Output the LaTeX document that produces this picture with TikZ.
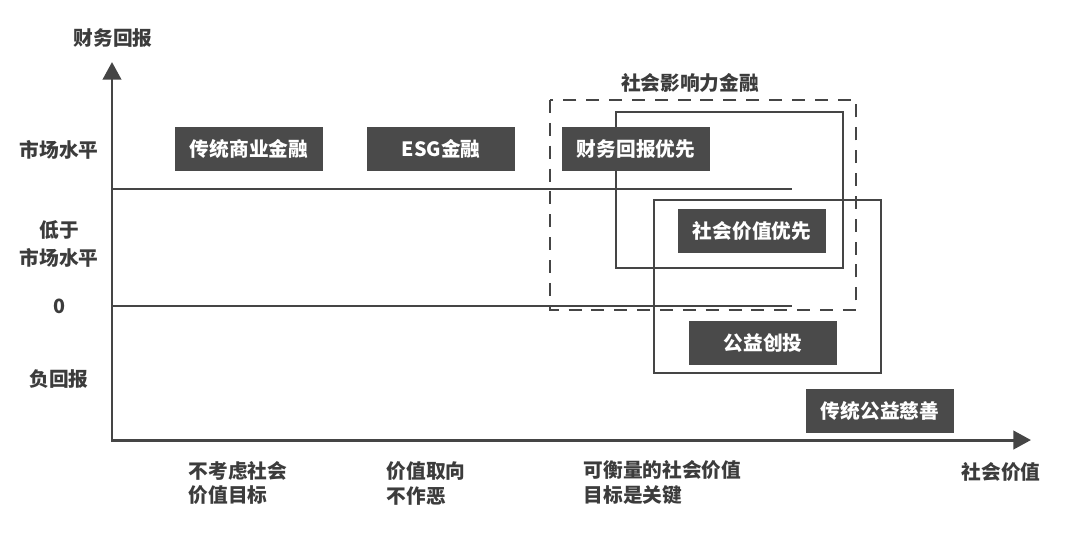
\documentclass[tikz,border=0pt]{standalone}
\usepackage{fontspec}
\setmainfont{Noto Sans CJK SC}
\usetikzlibrary{arrows.meta,positioning}
\definecolor{boxgray}{HTML}{4A4A4A}
\definecolor{linegray}{HTML}{454545}
\definecolor{textgray}{HTML}{3C3C3C}

\begin{document}
\begin{tikzpicture}[
  x=0.01cm, y=-0.01cm,
  cat/.style={rectangle, fill=boxgray, minimum width=1.48cm, minimum height=0.44cm,
              inner sep=0pt, text=white, font=\fontsize{5.6}{7}\selectfont\bfseries},
  lbl/.style={inner sep=0pt, text=textgray, align=center,
              font=\fontsize{5.6}{8}\selectfont\bfseries},
  note/.style={lbl, anchor=west, align=left, font=\fontsize{5.6}{7.1}\selectfont\bfseries},
  axis/.style={line width=0.85pt, draw=linegray,
               {Triangle[length=5pt,width=5.2pt]}-{Triangle[length=5pt,width=5.2pt]}},
  level/.style={line width=0.7pt, draw=linegray},
  zone/.style={line width=0.75pt, draw=linegray},
  impact/.style={zone, dash pattern=on 3.7pt off 2.8pt},
]
  \useasboundingbox (0,0) rectangle (1080,535);

  % Axes
  \coordinate (o) at (112,440);
  \coordinate (ytip) at (112,62);
  \coordinate (xtip) at (1031,440);
  \draw[axis] (ytip) -- (o) -- (xtip);
  \node[lbl] (yname) at (113,38) {财务回报};
  \node[lbl] (xname) at (1001,472) {社会价值};

  % Return levels
  \coordinate (mkt) at (112,189);
  \coordinate (mktend) at (792,189);
  \coordinate (zero) at (112,306);
  \coordinate (zeroend) at (792,306);
  \draw[level] (mkt) -- (mktend);
  \draw[level] (zero) -- (zeroend);
  \node[lbl] (ymkt) at (59,150) {市场水平};
  \node[lbl] (ylow) at (59,244) {低于\\市场水平};
  \node[lbl] (yzero) at (59,306) {0};
  \node[lbl] (yneg) at (59,379) {负回报};

  % Zones
  \draw[impact] (550,100) rectangle (856,310);
  \node[lbl] (impactname) at (690,83) {社会影响力金融};
  \draw[zone] (616,112) rectangle (843,268);
  \draw[zone] (654,200) rectangle (881,373);

  % Categories
  \node[cat] (trad) at (249,149) {传统商业金融};
  \node[cat] (esg) at (441,149) {ESG金融};
  \node[cat] (finfirst) at (636,149) {财务回报优先};
  \node[cat] (socfirst) at (752,231) {社会价值优先};
  \node[cat] (venture) at (763,343) {公益创投};
  \node[cat] (charity) at (880,411) {传统公益慈善};

  % Value orientation
  \node[note] (nosoc) at (188,483) {不考虑社会\\价值目标};
  \node[note] (noharm) at (386,483) {价值取向\\不作恶};
  \node[note] (measure) at (583,483) {可衡量的社会价值\\目标是关键};
\end{tikzpicture}
\end{document}
